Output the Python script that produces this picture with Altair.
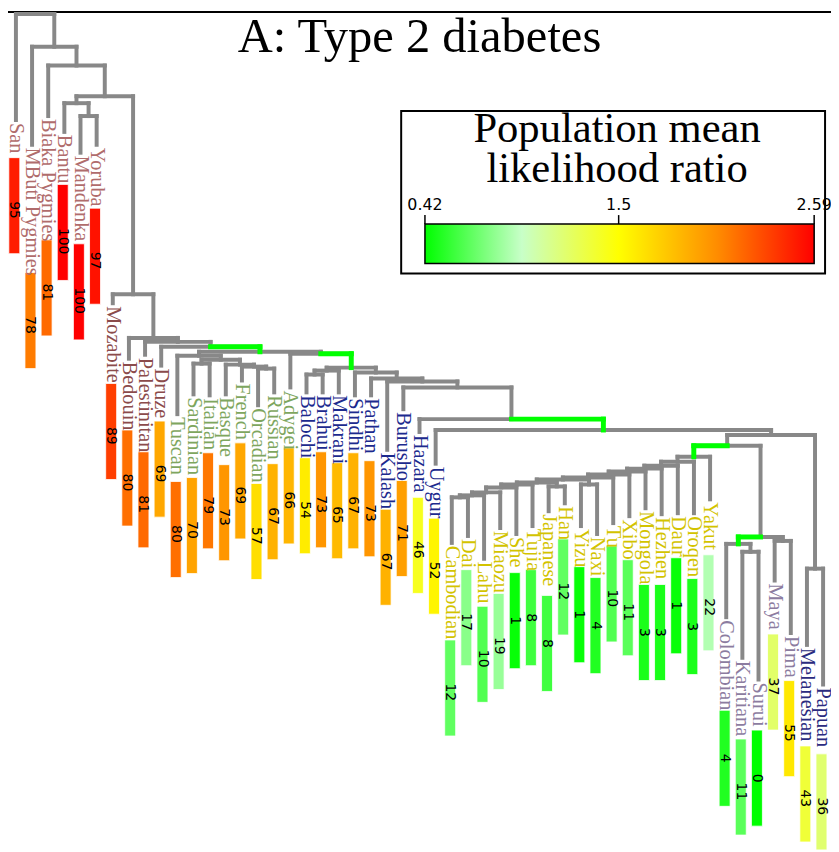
import altair as alt
import pandas as pd

# ------------------------------------------------------------------ data
populations = ["San", "MButi Pygmies", "Biaka Pygmies", "Bantu", "Mandenka", "Yoruba",
               "Mozabite", "Bedouin", "Palestinitan", "Druze",
               "Tuscan", "Sardinian", "Italian", "Basque", "French", "Orcadian", "Russian", "Adygei",
               "Balochi", "Brahui", "Makrani", "Sindhi", "Pathan", "Kalash", "Burusho", "Hazara", "Uygur",
               "Cambodian", "Dai", "Lahu", "Miaozu", "She", "Tujia", "Japanese", "Han", "Yizu", "Naxi",
               "Tu", "Xibo", "Mongola", "Hezhen", "Daur", "Oroqen", "Yakut",
               "Colombian", "Karitiana", "Surui", "Maya", "Pima",
               "Melanesian", "Papuan"]
regions = (["Africa"] * 6 + ["Middle East"] * 4 + ["Europe"] * 8 + ["Central/South Asia"] * 9
           + ["East Asia"] * 17 + ["America"] * 5 + ["Oceania"] * 2)
region_names = ["Africa", "Middle East", "Europe", "Central/South Asia", "East Asia", "America", "Oceania"]
region_colors = ["#b06c6c", "#8b4b4b", "#7ea65e", "#1c2a8e", "#d3c300", "#8c7ca0", "#2b2b80"]

# number printed in each bar
score = [95, 78, 81, 100, 100, 97, 89, 80, 81, 69,
         80, 70, 79, 73, 69, 57, 67, 66,
         54, 73, 65, 67, 73, 67, 71, 46, 52,
         12, 17, 10, 19, 1, 8, 8, 12, 1, 4, 10, 11, 3, 3, 1, 3, 22,
         4, 11, 0, 37, 55, 43, 36]
# population mean likelihood ratio
lr = [2.48, 2.11, 2.18, 2.59, 2.59, 2.52, 2.35, 2.16, 2.18, 1.92,
      2.16, 1.94, 2.13, 2.00, 1.92, 1.66, 1.87, 1.85,
      1.59, 2.00, 1.83, 1.87, 2.00, 1.87, 1.96, 1.42, 1.55,
      0.68, 0.79, 0.64, 0.83, 0.44, 0.59, 0.59, 0.68, 0.44, 0.51, 0.64, 0.66, 0.49, 0.49, 0.44, 0.49, 0.90,
      0.51, 0.66, 0.42, 1.22, 1.61, 1.35, 1.20]
# depth where each leaf branch ends, and where its bar starts (tree depth units)
tip_depth = [117, 142, 113, 129, 150, 142, 302, 358, 354, 365,
             414, 394, 395, 394, 380, 405, 392, 387,
             392, 392, 392, 395, 395, 450, 409, 432, 464,
             544, 537, 560, 529, 535, 527, 512, 504, 527, 535, 524, 517, 509, 515, 514, 514, 500,
             619, 660, 682, 582, 635, 647, 687]
bar_start = [155, 271, 238, 182, 242, 206, 383, 430, 452, 421,
             482, 478, 453, 465, 443, 484, 464, 448,
             458, 452, 463, 453, 461, 510, 481, 498, 519,
             642, 571, 608, 595, 574, 571, 597, 540, 568, 579, 547, 561, 586, 586, 559, 580, 556,
             713, 742, 733, 636, 683, 749, 757]

# tree: internal nodes (left child, right child, depth of the join)
node_names = ["root", "n1", "n2", "n3", "afr", "my", "nonafr", "me1", "me2", "me3", "eurasia",
              "europe", "eu2", "si", "eu3", "eu4", "eu5", "b", "c", "c1", "bb", "c2", "c3",
              "e", "f", "g", "h", "i", "j", "k", "m", "n", "ks", "o",
              "eastasia", "p", "q", "r", "s", "t", "t2", "t3", "yn", "t4", "jh", "t5", "t6", "t7", "t8", "cd"]
node_left = ["San", "MButi Pygmies", "Biaka Pygmies", "afr", "Bantu", "Mandenka", "Mozabite", "Bedouin",
             "Palestinitan", "Druze", "europe",
             "Tuscan", "si", "Sardinian", "Basque", "French", "Orcadian", "Adygei", "c1", "bb", "Balochi",
             "Sindhi", "Pathan",
             "Kalash", "Burusho", "Hazara", "Uygur", "j", "eastasia", "Melanesian", "n", "Colombian", "Karitiana",
             "Maya",
             "p", "q", "r", "s", "t", "t2", "t3", "t4", "Yizu", "t5", "Japanese", "t6", "t7", "t8", "cd", "Cambodian"]
node_right = ["n1", "n2", "n3", "nonafr", "my", "Yoruba", "me1", "me2", "me3", "eurasia", "b",
              "eu2", "eu3", "Italian", "eu4", "eu5", "Russian", "c", "c2", "Makrani", "Brahui", "c3", "e",
              "f", "g", "h", "i", "k", "m", "Papuan", "o", "ks", "Surui", "Pima",
              "Yakut", "Oroqen", "Daur", "Hezhen", "Mongola", "Xibo", "Tu", "yn", "Naxi", "jh", "Han",
              "Tujia", "She", "Miaozu", "Lahu", "Dai"]
node_depth = [10, 43, 62, 93, 100, 113, 293, 337, 341, 346, 351,
              355, 359, 363, 364, 366, 368, 353, 367, 370, 374, 372, 378,
              381, 387, 419, 430, 435, 446, 570, 538, 545, 553, 542,
              457, 462, 466, 469, 472, 475, 478, 480, 485, 483, 487, 485, 488, 493, 496, 498]
green_branches = ["eurasia", "c", "h", "eastasia", "n"]

legend_stops = [0.42, 0.96, 1.5, 2.05, 2.59]
legend_colors = ["#00ff00", "#c8ffc8", "#ffff00", "#ff8c00", "#ff0000"]
legend_ticks = [0.42, 1.5, 2.59]
legend_tick_labels = ["0.42", "1.5", "2.59"]

# ------------------------------------------------------------------ build tables
idx = {p: i for i, p in enumerate(populations)}
tip = dict(zip(populations, tip_depth))
L = dict(zip(node_names, node_left))
R = dict(zip(node_names, node_right))
D = dict(zip(node_names, node_depth))


def xpos(n):
    if n in idx:
        return float(idx[n])
    return (xpos(L[n]) + xpos(R[n])) / 2


def top(n):
    return tip[n] if n in idx else D[n]


gray_rows, green_rows = [], []
for n in node_names:
    h = D[n]
    xl, xr = xpos(L[n]), xpos(R[n])
    xm = (xl + xr) / 2
    gray_rows.append(dict(x=xl, x2=xr, y=h, y2=h))
    for ch in (L[n], R[n]):
        xc = xpos(ch)
        seg = dict(x=xc, x2=xc, y=h, y2=top(ch))
        if ch in green_branches:
            green_rows.append(seg)
            green_rows.append(dict(x=xm, x2=xc, y=h, y2=h))
        else:
            gray_rows.append(seg)

cmap = dict(zip(region_names, region_colors))
leaves = pd.DataFrame({
    "pop": populations,
    "i": list(range(len(populations))),
    "region": regions,
    "lcolor": [cmap[r] for r in regions],
    "score": [str(s) for s in score],
    "lr": lr,
    "tip": tip_depth,
    "bar": bar_start,
})
leaves["label_y"] = leaves["tip"] + 3
leaves["bar_end"] = leaves["bar"] + 97
leaves["bx"] = leaves["i"] - 0.44
leaves["bx2"] = leaves["i"] + 0.24
leaves["tx"] = leaves["i"] - 0.1
leaves["num_y"] = leaves["bar"] + 44

XS = alt.Scale(domain=[-0.491, 50.49], nice=False, zero=False)
YS = alt.Scale(domain=[8, 852], reverse=True, nice=False, zero=False)

gray = alt.Chart(pd.DataFrame(gray_rows)).mark_rule(
    color="#888888", strokeWidth=4, strokeCap="square").encode(
    x=alt.X("x:Q", scale=XS, axis=None), x2="x2:Q",
    y=alt.Y("y:Q", scale=YS, axis=None), y2="y2:Q")
green = alt.Chart(pd.DataFrame(green_rows)).mark_rule(
    color="#00ff00", strokeWidth=5, strokeCap="square").encode(
    x=alt.X("x:Q", scale=XS, axis=None), x2="x2:Q",
    y=alt.Y("y:Q", scale=YS, axis=None), y2="y2:Q")

labels = alt.Chart(leaves).mark_text(
    angle=90, align="left", baseline="middle", font="Liberation Serif", fontSize=20.5).encode(
    x=alt.X("i:Q", scale=XS, axis=None),
    y=alt.Y("label_y:Q", scale=YS, axis=None),
    text="pop:N",
    color=alt.Color("lcolor:N", scale=None))

bars = alt.Chart(leaves).mark_rect(stroke="white", strokeWidth=0.8).encode(
    x=alt.X("bx:Q", scale=XS, axis=None), x2="bx2:Q",
    y=alt.Y("bar:Q", scale=YS, axis=None), y2="bar_end:Q",
    color=alt.Color("lr:Q", scale=alt.Scale(domain=legend_stops, range=legend_colors,
                                            interpolate="rgb"), legend=None))

nums = alt.Chart(leaves).mark_text(
    angle=90, align="left", baseline="middle", font="DejaVu Sans", fontSize=14, color="black").encode(
    x=alt.X("tx:Q", scale=XS, axis=None),
    y=alt.Y("num_y:Q", scale=YS, axis=None),
    text="score:N")

one = pd.DataFrame({"a": [0]})
title = alt.Chart(one).mark_text(
    text="A: Type 2 diabetes", font="Liberation Serif", fontSize=49, align="center",
    baseline="alphabetic", color="black").encode(x=alt.value(415.5), y=alt.value(40))
top_rule = alt.Chart(one).mark_rule(color="black", strokeWidth=2).encode(
    x=alt.value(0), x2=alt.value(831), y=alt.value(0))

tree = alt.layer(top_rule, gray, green, bars, nums, labels, title)

# --------------------------------------------------------------- colour legend
LX = alt.Scale(domain=[legend_stops[0], legend_stops[-1]], range=[421, 814], nice=False, zero=False)
span = legend_stops[-1] - legend_stops[0]
grad = alt.Gradient(
    gradient="linear",
    stops=[alt.GradientStop(color=c, offset=(s - legend_stops[0]) / span)
           for s, c in zip(legend_stops, legend_colors)],
    x1=0, x2=1, y1=0, y2=0)

box = alt.Chart(one).mark_rect(fill="white", stroke="black", strokeWidth=2).encode(
    x=alt.value(397), x2=alt.value(825), y=alt.value(100), y2=alt.value(264))
grad_df = pd.DataFrame({"lo": [legend_stops[0]], "hi": [legend_stops[-1]]})
grad_rect = alt.Chart(grad_df).mark_rect(fill=grad, stroke="black", strokeWidth=1.5).encode(
    x=alt.X("lo:Q", scale=LX, axis=None), x2="hi:Q", y=alt.value(214), y2=alt.value(254))
tick_df = pd.DataFrame({"v": legend_ticks, "t": legend_tick_labels})
ticks = alt.Chart(tick_df).mark_rule(color="black", strokeWidth=1.5).encode(
    x=alt.X("v:Q", scale=LX, axis=None), y=alt.value(205), y2=alt.value(214))
tick_text = alt.Chart(tick_df).mark_text(
    font="DejaVu Sans", fontSize=16, align="center", baseline="alphabetic", color="black").encode(
    x=alt.X("v:Q", scale=LX, axis=None), y=alt.value(200), text="t:N")
leg_title1 = alt.Chart(one).mark_text(
    text="Population mean", font="Liberation Serif", fontSize=43,
    align="center", baseline="alphabetic", color="black").encode(
    x=alt.value(615), y=alt.value(131))
leg_title2 = alt.Chart(one).mark_text(
    text="likelihood ratio", font="Liberation Serif", fontSize=43,
    align="center", baseline="alphabetic", color="black").encode(
    x=alt.value(615), y=alt.value(172))

legend = alt.layer(box, grad_rect, ticks, tick_text, leg_title1, leg_title2)

chart = alt.layer(tree, legend).resolve_scale(x="independent").properties(
    width=831, height=844, padding=0,
    autosize=alt.AutoSizeParams(type="none"),
).configure_view(stroke=None)

chart.save("out.html", embed_options={"renderer": "svg", "actions": False})
